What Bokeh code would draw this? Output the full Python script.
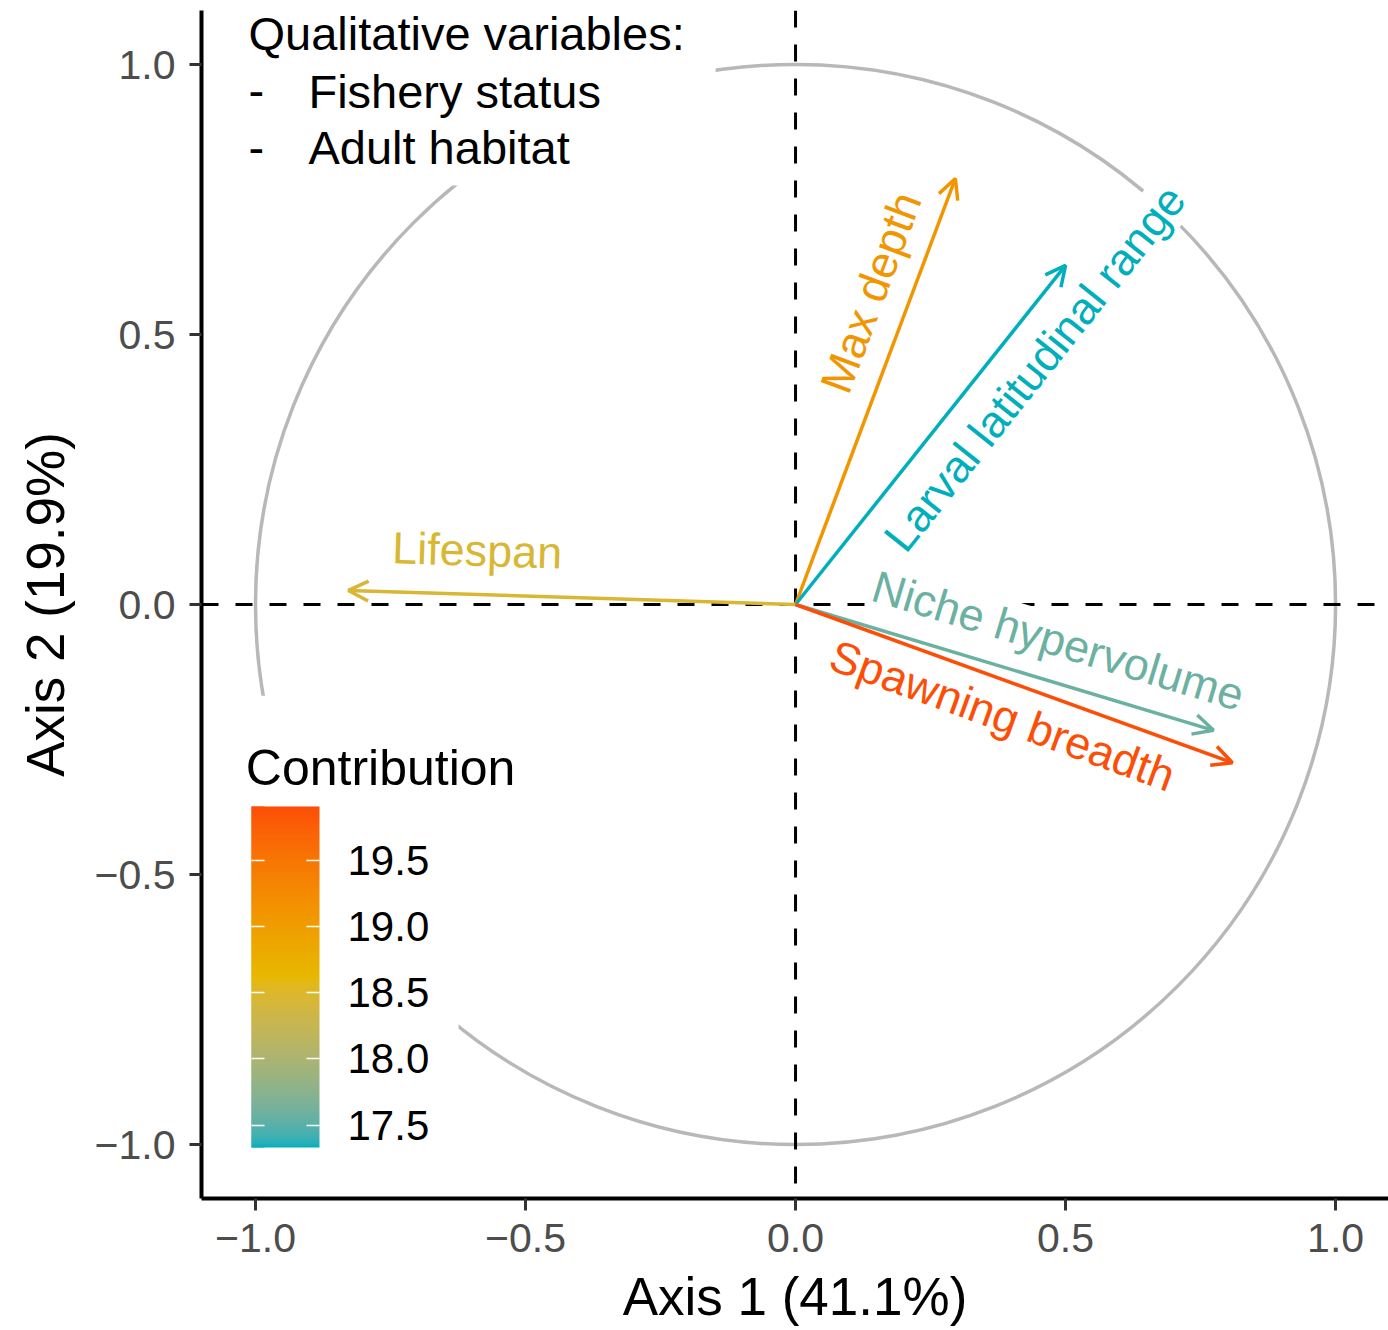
import math
from bokeh.plotting import figure
from bokeh.models import (Range1d, Arrow, OpenHead, Label, BoxAnnotation, ColorBar,
                          LinearColorMapper, FixedTicker, PrintfTickFormatter,
                          CustomJSTickFormatter, Span)
from bokeh.embed import file_html
from bokeh.resources import INLINE

# ---------------- data ----------------
variables = ["Max depth", "Larval latitudinal range", "Lifespan",
             "Niche hypervolume", "Spawning breadth"]
dim1 = [0.296, 0.500, -0.828, 0.774, 0.809]
dim2 = [0.789, 0.628, 0.026, -0.233, -0.293]
contrib = [19.10, 17.33, 18.45, 17.57, 19.91]
gradient_cols = ["#00AFBB", "#E7B800", "#FC4E07"]
axis_ticks = [-1.0, -0.5, 0.0, 0.5, 1.0]
contrib_ticks = [17.5, 18.0, 18.5, 19.0, 19.5]
x_title = "Axis 1 (41.1%)"
y_title = "Axis 2 (19.9%)"
legend_title = "Contribution"
note_title = "Qualitative variables:"
note_items = ["Fishery status", "Adult habitat"]

# label placement (layout): fraction along arrow, perpendicular offset in px
label_t = [0.70, 0.77, 0.715, 0.60, 0.50]
label_off = [39, -40, 44, 41, -34]

FONT = "Liberation Sans"

# ---------------- colour gradient (Lab interpolation, like ggplot) ----------------
def hex2rgb(h):
    h = h.lstrip("#")
    return [int(h[i:i + 2], 16) / 255 for i in (0, 2, 4)]

def to_lin(c):
    return c / 12.92 if c <= 0.04045 else ((c + 0.055) / 1.055) ** 2.4

def from_lin(c):
    v = 12.92 * c if c <= 0.0031308 else 1.055 * c ** (1 / 2.4) - 0.055
    return min(1, max(0, v))

WHITE = (0.95047, 1.0, 1.08883)

def rgb2lab(rgb):
    r, g, b = [to_lin(c) for c in rgb]
    X = 0.4124564 * r + 0.3575761 * g + 0.1804375 * b
    Y = 0.2126729 * r + 0.7151522 * g + 0.0721750 * b
    Z = 0.0193339 * r + 0.1191920 * g + 0.9503041 * b
    def f(t):
        return t ** (1 / 3) if t > 216 / 24389 else (24389 / 27 * t + 16) / 116
    fx, fy, fz = f(X / WHITE[0]), f(Y / WHITE[1]), f(Z / WHITE[2])
    return (116 * fy - 16, 500 * (fx - fy), 200 * (fy - fz))

def lab2hex(lab):
    L, a, b = lab
    fy = (L + 16) / 116
    fx = fy + a / 500
    fz = fy - b / 200
    def finv(t):
        return t ** 3 if t ** 3 > 216 / 24389 else (116 * t - 16) / (24389 / 27)
    X, Y, Z = finv(fx) * WHITE[0], finv(fy) * WHITE[1], finv(fz) * WHITE[2]
    r = 3.2404542 * X - 1.5371385 * Y - 0.4985314 * Z
    g = -0.9692660 * X + 1.8760108 * Y + 0.0415560 * Z
    bb = 0.0556434 * X - 0.2040259 * Y + 1.0572252 * Z
    return "#%02x%02x%02x" % tuple(int(round(from_lin(c) * 255)) for c in (r, g, bb))

labs = [rgb2lab(hex2rgb(c)) for c in gradient_cols]

def grad(t):
    t = min(1, max(0, t))
    n = len(labs) - 1
    i = min(int(t * n), n - 1)
    u = t * n - i
    return lab2hex(tuple(labs[i][k] + (labs[i + 1][k] - labs[i][k]) * u for k in range(3)))

cmin, cmax = min(contrib), max(contrib)
palette = [grad(i / 255) for i in range(256)]
colors = [grad((c - cmin) / (cmax - cmin)) for c in contrib]

# ---------------- figure ----------------
X0, X1, Y0, Y1 = -1.1, 1.098, -1.1, 1.1
FW, FH = 1187, 1188
PX = FH / (Y1 - Y0)

p = figure(frame_width=FW, frame_height=FH,
           x_range=Range1d(X0, X1), y_range=Range1d(Y0, Y1),
           output_backend="svg", toolbar_location=None,
           min_border_left=201, min_border_right=0, min_border_top=10,
           min_border_bottom=132)
p.outline_line_color = None
p.xgrid.visible = False
p.ygrid.visible = False
p.background_fill_color = "white"

fmt = CustomJSTickFormatter(code='return (tick < 0 ? "\\u2212" : "") + Math.abs(tick).toFixed(1);')
for ax, title in ((p.xaxis[0], x_title), (p.yaxis[0], y_title)):
    ax.ticker = FixedTicker(ticks=axis_ticks)
    ax.formatter = fmt
    ax.axis_label = title
    ax.axis_label_text_font = FONT
    ax.axis_label_text_font_size = "53px"
    ax.axis_label_text_font_style = "normal"
    ax.axis_label_text_color = "black"
    ax.major_label_text_font = FONT
    ax.major_label_text_font_size = "41px"
    ax.major_label_text_color = "#4D4D4D"
    ax.axis_line_color = "black"
    ax.axis_line_width = 4
    ax.major_tick_line_color = "#333333"
    ax.major_tick_line_width = 3
    ax.major_tick_out = 12
    ax.major_tick_in = 0
    ax.minor_tick_line_color = None
p.xaxis.major_label_standoff = 13
p.yaxis.major_label_standoff = 14
p.xaxis.axis_label_standoff = 12
p.yaxis.axis_label_standoff = 17

# reference lines
p.add_layout(Span(location=0, dimension="width", line_color="black",
                  line_width=3, line_dash="17 17"))
p.add_layout(Span(location=0, dimension="height", line_color="black",
                  line_width=3, line_dash="17 17"))

# unit circle
p.circle(x=[0], y=[0], radius=[1], fill_color=None, line_color="#B8B8B8",
         line_width=3.5)

# arrows and labels
for name, x, y, c, t, off in zip(variables, dim1, dim2, colors, label_t, label_off):
    p.add_layout(Arrow(x_start=0, y_start=0, x_end=x, y_end=y,
                       line_color=c, line_width=3.5,
                       end=OpenHead(size=20, line_color=c, line_width=3.5)))
    ang = math.atan(y / x)
    nx, ny = -math.sin(ang), math.cos(ang)
    lx = t * x + off / PX * nx
    ly = t * y + off / PX * ny
    p.add_layout(Label(x=lx, y=ly, text=name, angle=ang, angle_units="rad",
                       text_align="center", text_baseline="middle",
                       text_color=c, text_font=FONT, text_font_size="45px",
                       background_fill_color="white"))

# white boxes behind the note and the legend
p.add_layout(BoxAnnotation(left=-1.094, right=-0.148, bottom=0.776, top=1.1,
                           fill_color="white", fill_alpha=1, line_color=None))
p.add_layout(BoxAnnotation(left=-1.094, right=-0.624, bottom=-1.094, top=-0.169,
                           fill_color="white", fill_alpha=1, line_color=None))

# note text
p.add_layout(Label(x=-1.013, y=1.0576, text=note_title, text_align="left",
                   text_baseline="alphabetic", text_font=FONT,
                   text_font_size="47px", text_color="black"))
for i, item in enumerate(note_items):
    yy = 0.9506 - i * 0.1046
    p.add_layout(Label(x=-1.013, y=yy, text="-", text_align="left",
                       text_baseline="alphabetic", text_font=FONT,
                       text_font_size="47px", text_color="black"))
    p.add_layout(Label(x=-0.902, y=yy, text=item, text_align="left",
                       text_baseline="alphabetic", text_font=FONT,
                       text_font_size="47px", text_color="black"))

# colour bar legend
p.add_layout(Label(x=-1.018, y=-0.3019, text=legend_title, text_align="left",
                   text_baseline="alphabetic", text_font=FONT,
                   text_font_size="50px", text_color="black"))
mapper = LinearColorMapper(palette=palette, low=cmin, high=cmax)
common = dict(color_mapper=mapper, location=(50, 51), orientation="vertical",
              height=341, padding=0,
              ticker=FixedTicker(ticks=contrib_ticks),
              formatter=PrintfTickFormatter(format="%.1f"),
              major_tick_in=13, major_tick_out=0,
              major_tick_line_color="white", major_tick_line_width=1.5,
              minor_tick_line_color=None, bar_line_color=None,
              border_line_color=None, background_fill_alpha=0)
cb = ColorBar(width=68, major_label_text_font=FONT,
              major_label_text_font_size="42px",
              major_label_text_color="black", label_standoff=28, **common)
p.add_layout(cb)
# left-edge ticks: a narrow copy of the bar over its left part
cb_left = ColorBar(width=13, major_label_text_font_size="1px",
                   major_label_text_alpha=0, label_standoff=0, **common)
p.add_layout(cb_left)

open("out.html", "w").write(file_html(p, INLINE))
